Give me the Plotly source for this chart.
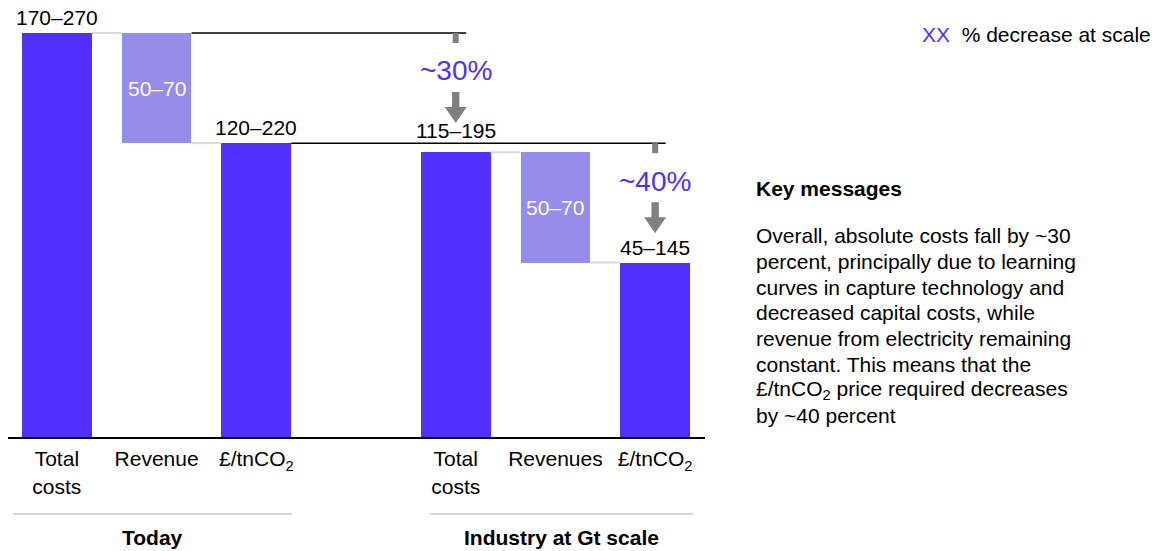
import plotly.graph_objects as go

# Cost waterfall, £ per tonne of CO2 captured (ranges: low / high end)
groups = ["Today", "Industry at Gt scale"]
step_labels = ["Total<br>costs", "Revenue", "£/tnCO<sub>2</sub>",
               "Total<br>costs", "Revenues", "£/tnCO<sub>2</sub>"]
step_pos = [0, 1, 2, 4, 5, 6]
range_low = [170, 50, 120, 115, 50, 45]
range_high = [270, 70, 220, 195, 70, 145]
decrease_labels = ["~30%", "~40%"]

legend_text = "% decrease at scale"
key_title = "Key messages"
key_lines = [
    "Overall, absolute costs fall by ~30",
    "percent, principally due to learning",
    "curves in capture technology and",
    "decreased capital costs, while",
    "revenue from electricity remaining",
    "constant. This means that the",
    "£/tnCO<sub>2</sub> price required decreases",
    "by ~40 percent",
]

# ---- styling ----
DARK = "#5130FF"
LIGHT = "#968CEC"
ARROW = "#808080"
CONNECT = "#D9D9D9"
FONT = "Liberation Sans, Arial, sans-serif"
FS = 21
W, H = 1160, 551
ML, MR, MT, MB = 8, 455, 10, 114
PLOT_W = W - ML - MR
PLOT_H = H - MT - MB
Y_MAX = 232.5
BAR_W = 0.7
HALF = BAR_W / 2


def u(px):
    """vertical pixels -> data units"""
    return px * Y_MAX / PLOT_H


def paper_x(px):
    return (px - ML) / PLOT_W


def paper_y(py):
    return (H - MB - py) / PLOT_H


mid = [(lo + hi) / 2 for lo, hi in zip(range_low, range_high)]

# build the two waterfalls: total -> minus revenue -> net price
tops, bases, kinds = [], [], []
for g in range(2):
    total = mid[3 * g]
    rev = mid[3 * g + 1]
    net = total - rev
    tops += [total, total, net]
    bases += [0, net, 0]
    kinds += ["solid", "delta", "solid"]

fig = go.Figure()
solid_idx = [i for i, k in enumerate(kinds) if k == "solid"]
delta_idx = [i for i, k in enumerate(kinds) if k == "delta"]

fig.add_trace(go.Bar(
    x=[step_pos[i] for i in solid_idx],
    y=[tops[i] - bases[i] for i in solid_idx],
    base=[bases[i] for i in solid_idx],
    width=BAR_W, marker=dict(color=DARK, line=dict(width=0)),
    hoverinfo="skip", showlegend=False,
))
fig.add_trace(go.Bar(
    x=[step_pos[i] for i in delta_idx],
    y=[tops[i] - bases[i] for i in delta_idx],
    base=[bases[i] for i in delta_idx],
    width=BAR_W, marker=dict(color=LIGHT, line=dict(width=0)),
    hoverinfo="skip", showlegend=False,
))

shapes = []
annotations = []

# connectors inside each waterfall
for g in range(2):
    i0 = 3 * g
    total, net = tops[i0], tops[i0 + 2]
    shapes.append(dict(type="line", xref="x", yref="y",
                       x0=step_pos[i0] + HALF, x1=step_pos[i0 + 1] - HALF,
                       y0=total, y1=total, line=dict(color=CONNECT, width=2)))
    shapes.append(dict(type="line", xref="x", yref="y",
                       x0=step_pos[i0 + 1] + HALF, x1=step_pos[i0 + 2] - HALF,
                       y0=net, y1=net, line=dict(color=CONNECT, width=2)))

# reference lines from today's levels across to the Gt-scale bars, with arrows
pairs = [(0, 3), (2, 5)]
ref_start = [1, 2]
for k, (a, b) in enumerate(pairs):
    level = tops[a]
    cx = step_pos[b]
    shapes.append(dict(type="line", xref="x", yref="y",
                       x0=step_pos[ref_start[k]] + HALF, x1=cx + 0.105,
                       y0=level, y1=level, line=dict(color="black", width=1.5)))
    shapes.append(dict(type="rect", xref="x", yref="y",
                       x0=cx - 0.03, x1=cx + 0.03, y0=level - u(10), y1=level,
                       fillcolor=ARROW, line=dict(width=0)))
    yt, ys, yb = level - u(59), level - u(74), level - u(90)
    sw, hw = 0.037, 0.11
    path = (f"M {cx - sw},{yt} L {cx + sw},{yt} L {cx + sw},{ys} L {cx + hw},{ys} "
            f"L {cx},{yb} L {cx - hw},{ys} L {cx - sw},{ys} Z")
    shapes.append(dict(type="path", xref="x", yref="y", path=path,
                       fillcolor=ARROW, line=dict(width=0)))
    annotations.append(dict(x=cx, y=level - u(38), xref="x", yref="y",
                            text=decrease_labels[k], showarrow=False,
                            font=dict(family=FONT, size=28, color=DARK),
                            xanchor="center", yanchor="middle"))

# value labels
label_lift = [2, 0, 2, 8, 0, 2]
for i in range(6):
    txt = f"{range_low[i]}–{range_high[i]}"
    if kinds[i] == "delta":
        annotations.append(dict(x=step_pos[i], y=(tops[i] + bases[i]) / 2,
                                xref="x", yref="y", text=txt, showarrow=False,
                                font=dict(family=FONT, size=FS, color="white"),
                                xanchor="center", yanchor="middle"))
    else:
        annotations.append(dict(x=step_pos[i], y=tops[i], xref="x", yref="y",
                                text=txt, showarrow=False,
                                font=dict(family=FONT, size=FS, color="black"),
                                xanchor="center", yanchor="bottom",
                                yshift=label_lift[i]))

# group separators and titles
group_span = [(-0.44, 2.36), (3.74, 6.38)]
for g, (x0, x1) in enumerate(group_span):
    shapes.append(dict(type="line", xref="x", yref="paper",
                       x0=x0, x1=x1, y0=paper_y(514), y1=paper_y(514),
                       line=dict(color="#B0B0B0", width=1)))
    annotations.append(dict(x=(x0 + x1) / 2, y=paper_y(537), xref="x", yref="paper",
                            text=f"<b>{groups[g]}</b>", showarrow=False,
                            font=dict(family=FONT, size=FS, color="black"),
                            xanchor="center", yanchor="middle"))

# legend key
annotations.append(dict(x=paper_x(1153), y=paper_y(35), xref="paper", yref="paper",
                        text=f"<span style='color:{DARK}'>XX</span>  {legend_text}",
                        showarrow=False, font=dict(family=FONT, size=FS, color="black"),
                        xanchor="right", yanchor="middle"))

# key messages panel
annotations.append(dict(x=paper_x(757), y=paper_y(188), xref="paper", yref="paper",
                        text=f"<b>{key_title}</b>", showarrow=False, xshift=-3,
                        font=dict(family=FONT, size=FS, color="black"),
                        xanchor="left", yanchor="middle"))
for n, line in enumerate(key_lines):
    annotations.append(dict(x=paper_x(757), y=paper_y(236 + 25.6 * n),
                            xref="paper", yref="paper", xshift=-3,
                            text=line, showarrow=False, align="left",
                            font=dict(family=FONT, size=FS, color="black"),
                            xanchor="left", yanchor="middle"))

fig.update_layout(
    width=W, height=H,
    margin=dict(l=ML, r=MR, t=MT, b=MB, pad=0),
    paper_bgcolor="white", plot_bgcolor="white",
    barmode="overlay", bargap=0,
    font=dict(family=FONT, size=FS, color="black"),
    shapes=shapes, annotations=annotations,
    xaxis=dict(range=[-0.49, 6.5], tickvals=step_pos, ticktext=step_labels,
               showline=True, linecolor="black", linewidth=2,
               showgrid=False, zeroline=False, ticks="",
               ticklabelstandoff=2,
               tickfont=dict(family=FONT, size=FS, color="black"),
               fixedrange=True),
    yaxis=dict(range=[0, Y_MAX], visible=False, showgrid=False, zeroline=False,
               fixedrange=True),
)

fig.write_html("out.html", config={"displayModeBar": False})
